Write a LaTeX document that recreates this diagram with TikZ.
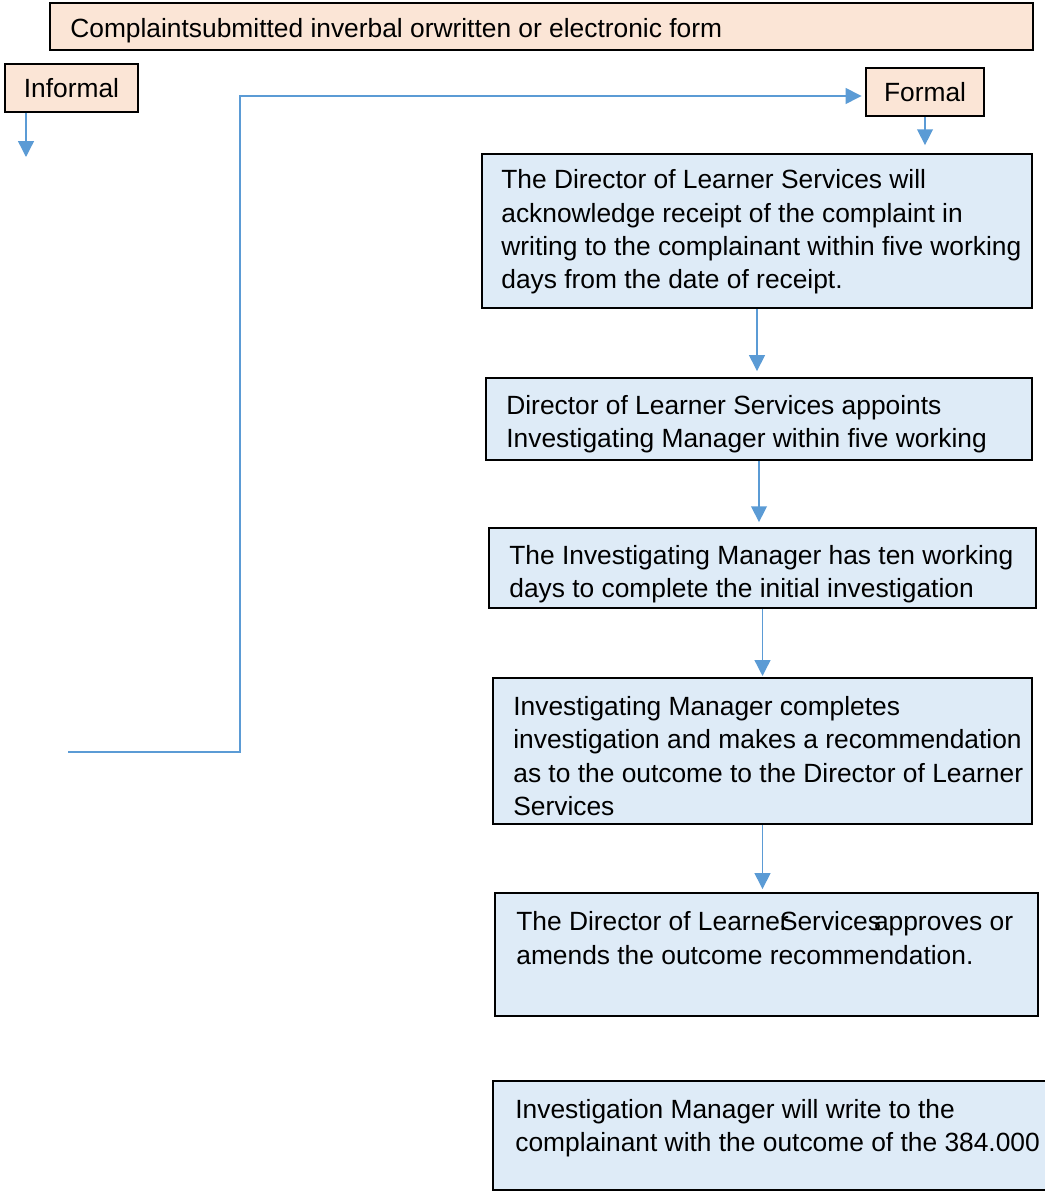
\documentclass[tikz,border=0pt]{standalone}
\usepackage{fontspec}
\setmainfont{Liberation Sans}
\usetikzlibrary{arrows.meta,fit}

\definecolor{peach}{RGB}{251,229,214}
\definecolor{paleblue}{RGB}{222,235,247}
\definecolor{flowblue}{RGB}{91,155,213}

\begin{document}
\begin{tikzpicture}[x=0.02cm, y=-0.02cm, font=\fontsize{15pt}{19pt}\selectfont,
  peachbox/.style={draw=black, fill=peach, line width=1.1pt, inner sep=0pt},
  bluebox/.style={draw=black, fill=paleblue, line width=1.1pt, inner sep=0pt},
  boxtext/.style={anchor=west, align=left, inner sep=0pt},
  flow/.style={draw=flowblue, line width=0.8pt, -{Triangle[width=9pt,length=9pt]}}]
\useasboundingbox (0,0) rectangle (1044,1192);

\node[peachbox, fit={(50,3) (1033,50)}] (top) {};
\node[boxtext] (toptext) at (70,31) {Complaintsubmitted inverbal orwritten or electronic form};

\node[peachbox, minimum width=2.66cm, minimum height=0.96cm] (inf) at (71.5,88) {Informal};
\node[peachbox, minimum width=2.36cm, minimum height=0.96cm] (form) at (925,92) {Formal};

\node[bluebox, fit={(482,154) (1032,308)}] (s1) {};
\node[bluebox, fit={(486,378) (1032,460)}] (s2) {};
\node[bluebox, fit={(489,528) (1036,608)}] (s3) {};
\node[bluebox, fit={(493,678) (1032,824)}] (s4) {};
\node[bluebox, fit={(495,893) (1038,1016)}] (s5) {};
\node[bluebox, fit={(493,1081) (1070,1190)}] (s6) {};% runs off the right edge

\node[boxtext] (t1) at (501,232) {The Director of Learner Services will\\acknowledge receipt of the complaint in\\writing to the complainant within five working\\days from the date of receipt.};
\node[boxtext] (t2) at (506,424) {Director of Learner Services appoints\\Investigating Manager within five working};
\node[boxtext] (t3) at (509,574) {The Investigating Manager has ten working\\days to complete the initial investigation};
\node[boxtext] (t4) at (513,756) {Investigating Manager completes\\investigation and makes a recommendation\\as to the outcome to the Director of Learner\\Services};
\node[boxtext] (t5) at (516,938) {The Director of Learner\kern-5pt Services\kern-4pt approves or\\amends the outcome recommendation.};
\node[boxtext] (t6) at (515,1128) {Investigation Manager will write to the\\complainant with the outcome of the 384.000};

\coordinate (infend) at (26,157);
\draw[flow] (inf.south -| infend) -- (infend);
\draw[flow, shorten >=4.5pt] (form.south) -- (form.south |- s1.north);

\coordinate (loopstart) at (68,752);
\coordinate (loopturn) at (240,96);
\draw[flow, shorten >=2pt] (loopstart) -| (loopturn) -- (loopturn -| form.west);

\draw[flow, shorten >=3.4pt] (s1.south) -- (s1.south |- s2.north);
\draw[flow, shorten >=2.8pt] (s2.south) -- (s2.south |- s3.north);
\draw[flow, shorten >=0.6pt] (s3.south) -- (s3.south |- s4.north);
\draw[flow, shorten >=1.7pt] (s4.south) -- (s4.south |- s5.north);

\end{tikzpicture}
\end{document}
